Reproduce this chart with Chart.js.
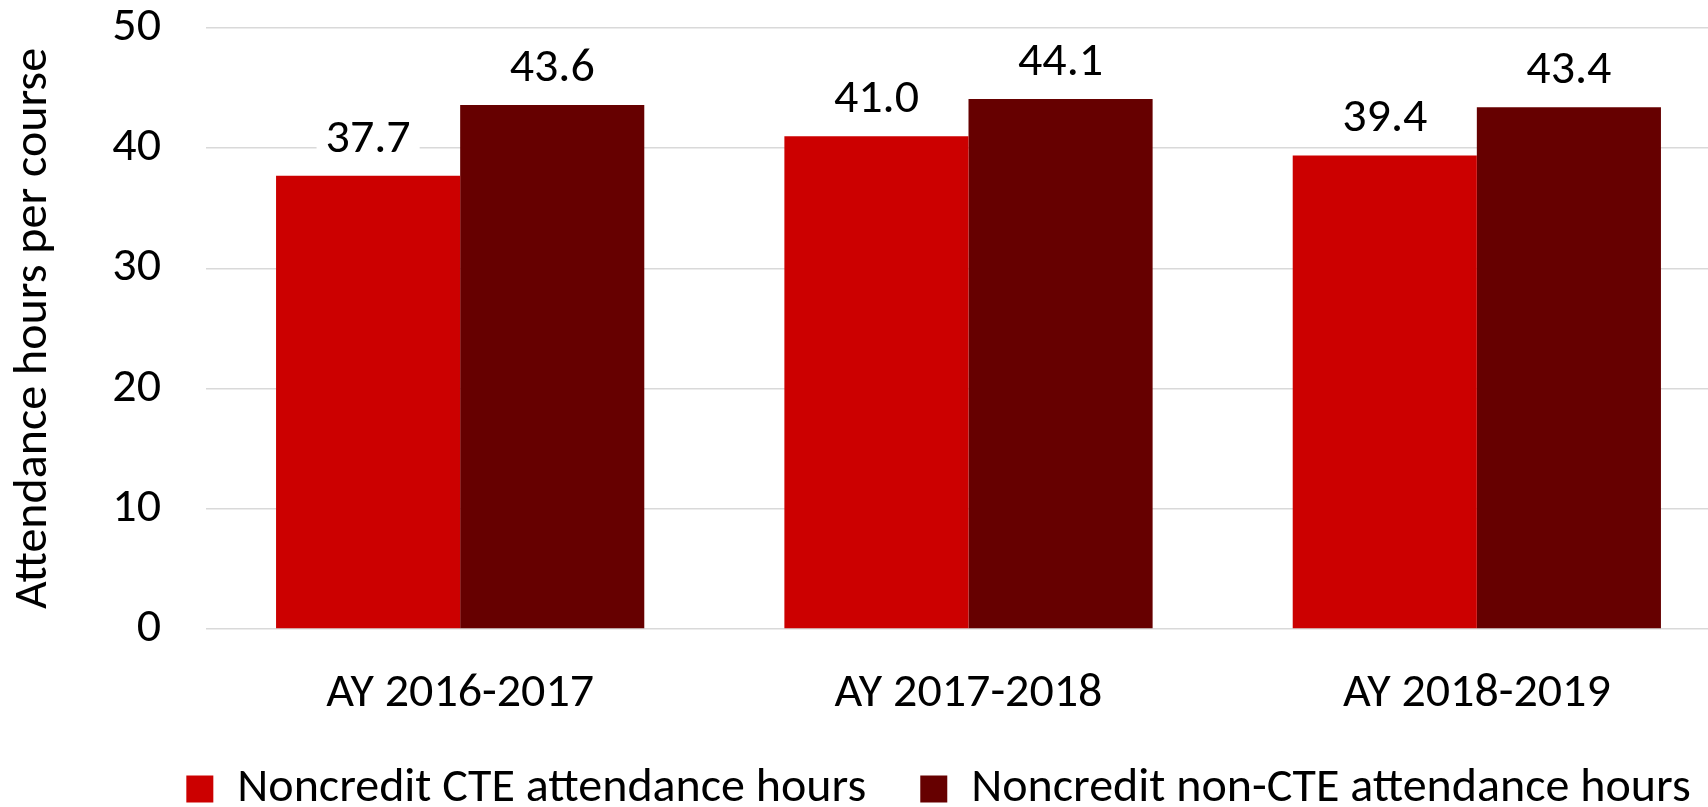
<!DOCTYPE html>
<html>
<head>
<meta charset="utf-8">
<title>Attendance hours per course</title>
<script src="https://cdn.jsdelivr.net/npm/chart.js@4.4.1/dist/chart.umd.min.js"></script>
<style>
    html, body { margin: 0; padding: 0; background: #ffffff; overflow: hidden; }
</style>
</head>
<body>
<canvas id="attendanceChart" width="1877" height="823"></canvas>
<script>
const years = ['AY 2016-2017', 'AY 2017-2018', 'AY 2018-2019'];
const cteHours = [37.7, 41.0, 39.4];
const nonCteHours = [43.6, 44.1, 43.4];
const yTicks = [0, 10, 20, 30, 40, 50];

Chart.defaults.font.family = "Carlito, Calibri, Lato, sans-serif";
Chart.defaults.font.size = 48;
Chart.defaults.color = '#000000';

// value labels above each bar, on a white patch that hides the gridline
const barLabels = {
    id: 'barLabels',
    afterDatasetsDraw(chart) {
        const ctx = chart.ctx;
        ctx.save();
        ctx.font = "48px Carlito, Calibri, Lato, sans-serif";
        ctx.textAlign = 'center';
        ctx.textBaseline = 'alphabetic';
        chart.data.datasets.forEach((ds, i) => {
            chart.getDatasetMeta(i).data.forEach((bar, j) => {
                const text = ds.data[j].toFixed(1);
                const w = ctx.measureText(text).width;
                const base = bar.y - 24;
                ctx.fillStyle = '#ffffff';
                ctx.fillRect(bar.x - w / 2 - 9, base - 38, w + 18, 46);
                ctx.fillStyle = '#000000';
                ctx.fillText(text, bar.x, base);
            });
        });
        ctx.restore();
    }
};

new Chart(document.getElementById('attendanceChart'), {
    type: 'bar',
    data: {
        labels: years,
        datasets: [
            {
                label: 'Noncredit CTE attendance hours',
                data: cteHours,
                backgroundColor: '#cc0000',
                barPercentage: 1,
                categoryPercentage: 0.7244
            },
            {
                label: 'Noncredit non-CTE attendance hours',
                data: nonCteHours,
                backgroundColor: '#660000',
                barPercentage: 1,
                categoryPercentage: 0.7244
            }
        ]
    },
    options: {
        responsive: false,
        animation: false,
        layout: { padding: { top: 28, left: 0, right: 0, bottom: 0 } },
        plugins: {
            legend: {
                position: 'bottom',
                labels: {
                    boxWidth: 27,
                    boxHeight: 27,
                    padding: 54,
                    color: '#000000',
                    font: { size: 48 }
                }
            },
            tooltip: { enabled: false }
        },
        scales: {
            x: {
                grid: { display: false, drawTicks: false },
                border: { display: false },
                ticks: { padding: 36, font: { size: 48 } },
                afterFit(scale) {
                    scale.height = 82;
                    scale.paddingLeft = 0;
                    scale.paddingRight = 0;
                }
            },
            y: {
                min: 0,
                max: 50,
                afterBuildTicks(scale) { scale.ticks = yTicks.map(v => ({ value: v })); },
                grid: { color: '#d9d9d9', lineWidth: 1.5, drawTicks: false },
                border: { display: false },
                ticks: { padding: 45, font: { size: 48 } },
                title: {
                    display: true,
                    text: 'Attendance hours per course',
                    font: { size: 48 },
                    padding: { top: 5, bottom: 0 }
                },
                afterFit(scale) {
                    scale.width = 206;
                    scale.paddingTop = 0;
                    scale.paddingBottom = 0;
                }
            },
            // empty right-hand axis: pushes the plot past the visible edge like the original crop
            yRight: {
                position: 'right',
                display: true,
                grid: { display: false, drawTicks: false },
                border: { display: false },
                ticks: { display: false },
                afterFit(scale) {
                    scale.width = 146;
                    scale.paddingTop = 0;
                    scale.paddingBottom = 0;
                }
            }
        }
    },
    plugins: [barLabels]
});
</script>
</body>
</html>
